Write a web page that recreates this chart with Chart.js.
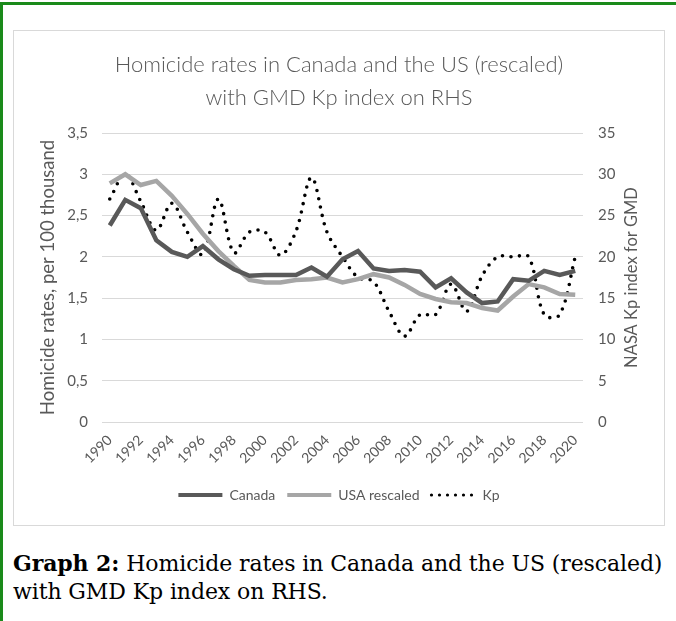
<!DOCTYPE html>
<html>
<head>
<meta charset="utf-8">
<script src="https://cdn.jsdelivr.net/npm/chart.js@4.4.1/dist/chart.umd.min.js"></script>
<style>
  body { margin: 0; background: #fff; width: 676px; height: 621px; overflow: hidden; position: relative; }
  #frame { position: absolute; left: 0; top: 2px; width: 676px; height: 619px; border-top: 3px solid #1a8a1a; border-left: 3px solid #1a8a1a; box-sizing: border-box; }
  #box { position: absolute; left: 13px; top: 30px; width: 652px; height: 496px; border: 1px solid #d9d9d9; box-sizing: border-box; }
  #wrap { position: absolute; left: 13px; top: 30px; width: 652px; height: 496px; }
  #title { position: absolute; left: 13px; top: 47px; width: 652px; text-align: center; font-family: Lato, sans-serif; font-weight: 300; font-size: 22px; line-height: 33px; color: #595959; }
  #caption { position: absolute; left: 13px; top: 549px; font-family: 'DejaVu Serif', serif; font-size: 22px; line-height: 28px; color: #000; letter-spacing: -0.1px; }
</style>
</head>
<body>
<div id="frame"></div>
<div id="box"></div>
<div id="wrap"><canvas id="chart"></canvas></div>
<div id="title">Homicide rates in Canada and the US (rescaled)<br>with GMD Kp index on RHS</div>
<div id="caption"><b>Graph 2:</b> Homicide rates in Canada and the US (rescaled)<br>with GMD Kp index on RHS.</div>
<script>
// Data
const years = ['1990', '1991', '1992', '1993', '1994', '1995', '1996', '1997', '1998', '1999',
    '2000', '2001', '2002', '2003', '2004', '2005', '2006', '2007', '2008', '2009',
    '2010', '2011', '2012', '2013', '2014', '2015', '2016', '2017', '2018', '2019', '2020'];
const canada = [2.38, 2.69, 2.59, 2.20, 2.06, 2.00, 2.13, 1.97, 1.85, 1.77,
    1.78, 1.78, 1.78, 1.87, 1.76, 1.97, 2.07, 1.86, 1.83, 1.84,
    1.82, 1.63, 1.74, 1.57, 1.44, 1.46, 1.73, 1.71, 1.83, 1.78, 1.83];
const usaRescaled = [2.89, 3.00, 2.87, 2.92, 2.74, 2.52, 2.28, 2.07, 1.89, 1.72,
    1.69, 1.69, 1.72, 1.73, 1.75, 1.69, 1.73, 1.79, 1.75, 1.66,
    1.55, 1.49, 1.45, 1.44, 1.38, 1.35, 1.52, 1.67, 1.63, 1.55, 1.54];
const kp = [27, 30, 26.7, 23.2, 26.5, 23, 20.3, 27, 20.5, 23,
    23, 20.2, 23.1, 29.6, 23, 20, 17.5, 17, 13.4, 10.4,
    13, 13, 16.7, 13.4, 17.7, 20, 20, 20, 13, 13, 20];

const font = "Lato, sans-serif";
const grey = '#595959';

const legendItems = [
    { text: 'Canada', fillStyle: 'transparent', strokeStyle: '#595959', lineWidth: 4, lineCap: 'butt', lineDash: [] },
    { text: 'USA rescaled', fillStyle: 'transparent', strokeStyle: '#a6a6a6', lineWidth: 4, lineCap: 'butt', lineDash: [] },
    { text: 'Kp', fillStyle: 'transparent', strokeStyle: '#000000', lineWidth: 3.2, lineCap: 'round', lineDash: [0, 8] }
];

// Excel writes the secondary axis title bottom-to-top, Chart.js turns it the other way
const rightTitle = {
    id: 'rightTitle',
    afterDraw(chart) {
        const s = chart.scales.y1;
        const area = chart.chartArea;
        const ctx = chart.ctx;
        ctx.save();
        ctx.translate(s.right - 33, (area.top + area.bottom) / 2);
        ctx.rotate(-Math.PI / 2);
        ctx.font = '16.5px ' + font;
        ctx.fillStyle = grey;
        ctx.textAlign = 'center';
        ctx.textBaseline = 'middle';
        ctx.fillText('NASA Kp index for GMD', 0, 0);
        ctx.restore();
    }
};

new Chart(document.getElementById('chart').getContext('2d'), {
    type: 'line',
    data: {
        labels: years,
        datasets: [{
            label: 'Canada',
            data: canada,
            borderColor: '#595959',
            borderWidth: 4.5,
            pointRadius: 0,
            tension: 0,
            yAxisID: 'y'
        }, {
            label: 'USA rescaled',
            data: usaRescaled,
            borderColor: '#a6a6a6',
            borderWidth: 4.5,
            pointRadius: 0,
            tension: 0,
            yAxisID: 'y'
        }, {
            label: 'Kp',
            data: kp,
            borderColor: '#000000',
            borderWidth: 3.6,
            borderDash: [0, 8.5],
            borderCapStyle: 'round',
            pointRadius: 0,
            tension: 0.35,
            yAxisID: 'y1'
        }]
    },
    options: {
        responsive: true,
        maintainAspectRatio: false,
        animation: false,
        layout: { padding: { top: 103, left: 0, right: 0, bottom: 14 } },
        plugins: {
            title: { display: false },
            tooltip: { enabled: false },
            legend: {
                position: 'bottom',
                labels: {
                    color: grey,
                    font: { family: font, size: 14 },
                    boxWidth: 44,
                    boxHeight: 0,
                    padding: 12,
                    generateLabels: () => legendItems.map((it, i) => Object.assign({ hidden: false, datasetIndex: i, fontColor: grey }, it))
                }
            }
        },
        scales: {
            x: {
                offset: true,
                grid: { display: false },
                border: { display: false },
                ticks: {
                    color: grey,
                    font: { family: font, size: 14 },
                    autoSkip: false,
                    maxRotation: 45,
                    minRotation: 45,
                    padding: 2,
                    callback: function (val, idx) { return idx % 2 === 0 ? years[idx] : ''; }
                },
                afterFit: (scale) => { scale.height = 54; }
            },
            y: {
                position: 'left',
                min: 0,
                max: 3.5,
                grid: { color: '#d9d9d9', lineWidth: 1, drawTicks: false },
                border: { display: false },
                ticks: {
                    stepSize: 0.5,
                    color: grey,
                    padding: 14,
                    font: { family: font, size: 15 },
                    callback: (v) => String(v).replace('.', ',')
                },
                title: {
                    display: true,
                    text: 'Homicide rates, per 100 thousand',
                    color: grey,
                    font: { family: font, size: 18.5 },
                    padding: { top: 24, bottom: 0 }
                },
                afterFit: (scale) => { scale.width = 89; }
            },
            y1: {
                position: 'right',
                min: 0,
                max: 35,
                grid: { drawOnChartArea: false, drawTicks: false },
                border: { display: false },
                ticks: {
                    stepSize: 5,
                    color: grey,
                    padding: 15,
                    font: { family: font, size: 15 }
                },
                afterFit: (scale) => { scale.width = 82; }
            }
        }
    },
    plugins: [rightTitle]
});
</script>
</body>
</html>
